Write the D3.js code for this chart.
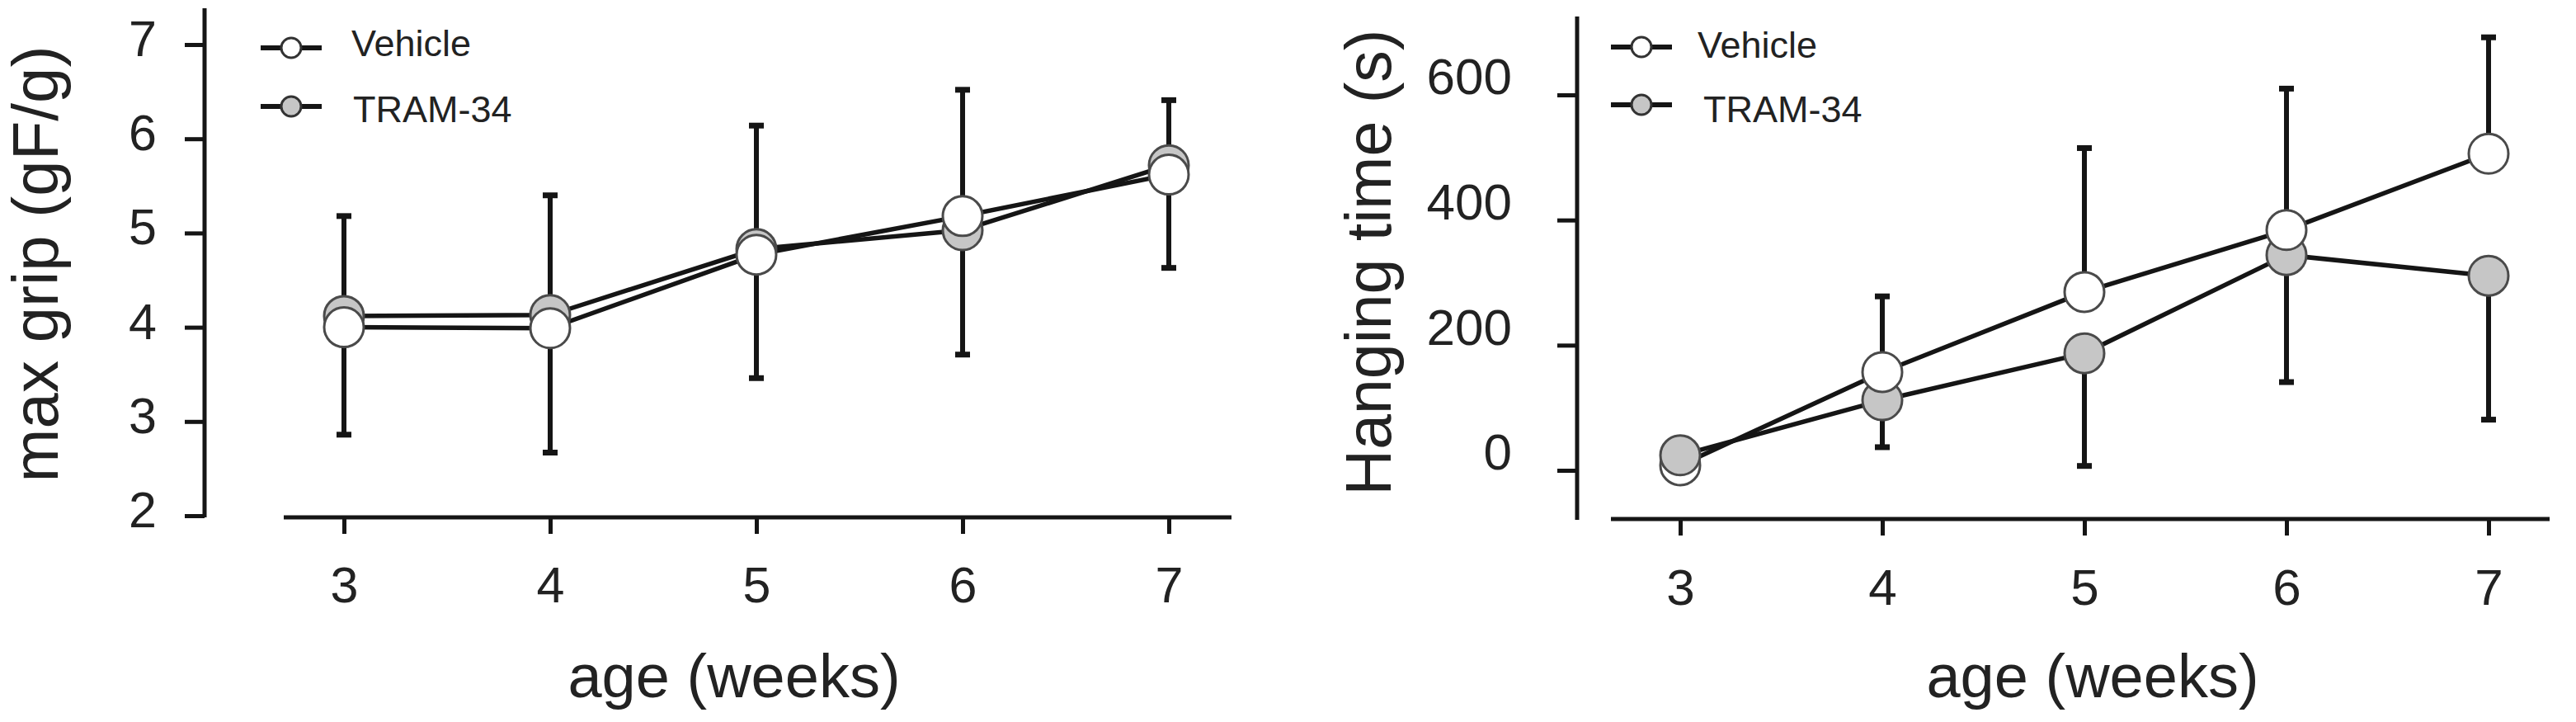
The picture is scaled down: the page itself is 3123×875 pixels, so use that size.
<!DOCTYPE html>
<html>
<head>
<meta charset="utf-8">
<script src="https://cdn.jsdelivr.net/npm/d3@7"></script>
<style>
  html, body { margin: 0; padding: 0; background: #ffffff; }
  svg { display: block; }
  text { font-family: "Liberation Sans", Arial, Helvetica, sans-serif; fill: #222; }
</style>
</head>
<body>
<svg id="chart" width="3123" height="875"></svg>
<script>
// ---------------- DATA ----------------
const weeks = [3, 4, 5, 6, 7];
const seriesNames = ["Vehicle", "TRAM-34"];

// Panel A: max grip (gF/g)
const gripVehicle      = [4.00, 3.99, 4.77, 5.18, 5.62];
const gripTram         = [4.12, 4.13, 4.83, 5.03, 5.72];
const gripVehicleUpper = [5.18, 5.40, 6.14, 6.52, 6.41];
const gripTramLower    = [2.86, 2.67, 3.46, 3.71, 4.63];
const gripTicks        = [2, 3, 4, 5, 6, 7];
const gripFront        = ["Vehicle", "Vehicle", "Vehicle", "Vehicle", "Vehicle"];

// Panel B: hanging time (s)
const hangVehicle      = [8, 157, 285, 384, 506];
const hangTram         = [24, 112, 187, 344, 311];
const hangVehicleUpper = [null, 278, 515, 610, 692];
const hangTramLower    = [null, 37, 7, 141, 81];
const hangTicks        = [0, 200, 400, 600];
const hangFront        = ["TRAM-34", "Vehicle", "Vehicle", "Vehicle", "Vehicle"];

// ---------------- STYLE ----------------
const INK = "#151515";
const fills = { "Vehicle": "#ffffff", "TRAM-34": "#c6c6c6" };
const svg = d3.select("#chart");
const fmt = d3.format("d");

function panel(cfg) {
  const g = svg.append("g");
  const x = d3.scaleLinear().domain([3, 7]).range(cfg.xRange);
  const y = d3.scaleLinear().domain(cfg.yDomain).range(cfg.yRange);

  // Y axis
  const ya = g.append("g").attr("transform", `translate(${cfg.yAxisX},0)`)
    .call(d3.axisLeft(y).tickValues(cfg.yTicks).tickFormat(fmt)
      .tickSize(cfg.yTickLen).tickSizeOuter(0).tickPadding(cfg.yTickPad));
  ya.select(".domain").remove();
  ya.append("line").attr("x1", 0).attr("x2", 0)
    .attr("y1", cfg.yAxisTop).attr("y2", cfg.yAxisBottom)
    .attr("stroke", INK).attr("stroke-width", 5);
  ya.selectAll(".tick line").attr("stroke", INK).attr("stroke-width", 5);
  ya.selectAll(".tick text").attr("font-size", cfg.tickFont).attr("fill", "#222")
    .attr("dy", cfg.yLabelDy).style("font-family", '"Liberation Sans", Arial, sans-serif');

  // X axis
  const xa = g.append("g").attr("transform", `translate(0,${cfg.xAxisY})`)
    .call(d3.axisBottom(x).tickValues(weeks).tickFormat(fmt)
      .tickSize(20).tickSizeOuter(0).tickPadding(40));
  xa.select(".domain").remove();
  xa.append("line").attr("x1", cfg.xAxisLeft).attr("x2", cfg.xAxisRight)
    .attr("y1", 0).attr("y2", 0).attr("stroke", INK).attr("stroke-width", 5);
  xa.selectAll(".tick line").attr("stroke", INK).attr("stroke-width", 5);
  xa.selectAll(".tick text").attr("font-size", cfg.tickFont).attr("fill", "#222")
    .attr("dy", "0.71em").style("font-family", '"Liberation Sans", Arial, sans-serif');

  // Titles
  g.append("text").attr("x", cfg.xTitleX).attr("y", 845)
    .attr("text-anchor", "middle").attr("font-size", 74).text("age (weeks)");
  g.append("text").attr("transform", `translate(${cfg.yTitleX},${cfg.yTitleY}) rotate(-90)`)
    .attr("text-anchor", "middle").attr("font-size", cfg.yTitleFont).text(cfg.yTitle);

  const series = {
    "Vehicle": cfg.vehicle,
    "TRAM-34": cfg.tram
  };

  // Lines
  const line = d3.line().x((d, i) => x(weeks[i])).y(d => y(d));
  seriesNames.forEach(name => {
    g.append("path").datum(series[name]).attr("d", line)
      .attr("fill", "none").attr("stroke", INK).attr("stroke-width", 5.5)
      .attr("stroke-linejoin", "round");
  });

  // Error bars (Vehicle upward, TRAM-34 downward)
  const bars = [];
  weeks.forEach((w, i) => {
    if (cfg.vehUpper[i] != null) bars.push({ w, from: cfg.vehicle[i], to: cfg.vehUpper[i] });
    if (cfg.tramLower[i] != null) bars.push({ w, from: cfg.tram[i], to: cfg.tramLower[i] });
  });
  const eb = g.append("g");
  eb.selectAll("line.bar").data(bars).join("line").attr("class", "bar")
    .attr("x1", d => x(d.w)).attr("x2", d => x(d.w))
    .attr("y1", d => y(d.from)).attr("y2", d => y(d.to))
    .attr("stroke", INK).attr("stroke-width", 6);
  eb.selectAll("line.cap").data(bars).join("line").attr("class", "cap")
    .attr("x1", d => x(d.w) - 9).attr("x2", d => x(d.w) + 9)
    .attr("y1", d => y(d.to)).attr("y2", d => y(d.to))
    .attr("stroke", INK).attr("stroke-width", 7);

  // Markers: back one first, front one last
  const pts = [];
  weeks.forEach((w, i) => {
    const front = cfg.front[i];
    const back = front === "Vehicle" ? "TRAM-34" : "Vehicle";
    pts.push({ w, v: series[back][i], s: back });
    pts.push({ w, v: series[front][i], s: front });
  });
  g.append("g").selectAll("circle").data(pts).join("circle")
    .attr("cx", d => x(d.w)).attr("cy", d => y(d.v)).attr("r", 24)
    .attr("fill", d => fills[d.s]).attr("stroke", "#4a4a4a").attr("stroke-width", 3);

  // Legend
  const lg = g.append("g");
  seriesNames.forEach((name, i) => {
    const row = cfg.legend[i];
    lg.append("line").attr("x1", row.x1).attr("x2", row.x2).attr("y1", row.y).attr("y2", row.y)
      .attr("stroke", INK).attr("stroke-width", 6);
    lg.append("circle").attr("cx", (row.x1 + row.x2) / 2).attr("cy", row.y).attr("r", 12)
      .attr("fill", fills[name]).attr("stroke", "#333").attr("stroke-width", 3);
    lg.append("text").attr("x", row.tx).attr("y", row.ty).attr("font-size", 45).text(name);
  });
}

panel({
  xRange: [417, 1417], yDomain: [2, 7], yRange: [625, 54], yTicks: gripTicks,
  yAxisX: 248, yAxisTop: 10, yAxisBottom: 627, yTickLen: 24, yTickPad: 34, yLabelDy: "0.22em",
  xAxisY: 627, xAxisLeft: 344, xAxisRight: 1493, tickFont: 61,
  xTitleX: 890, yTitleX: 70, yTitleY: 320, yTitleFont: 78, yTitle: "max grip (gF/g)",
  vehicle: gripVehicle, tram: gripTram, vehUpper: gripVehicleUpper, tramLower: gripTramLower,
  front: gripFront,
  legend: [
    { x1: 316, x2: 390, y: 58, tx: 426, ty: 68 },
    { x1: 316, x2: 390, y: 129, tx: 428, ty: 148 }
  ]
});

panel({
  xRange: [2037, 3017], yDomain: [0, 600], yRange: [570, 115], yTicks: hangTicks,
  yAxisX: 1912, yAxisTop: 20, yAxisBottom: 630, yTickLen: 24, yTickPad: 55, yLabelDy: "-0.02em",
  xAxisY: 629, xAxisLeft: 1953, xAxisRight: 3091, tickFont: 62,
  xTitleX: 2537, yTitleX: 1686, yTitleY: 318, yTitleFont: 77, yTitle: "Hanging time (s)",
  vehicle: hangVehicle, tram: hangTram, vehUpper: hangVehicleUpper, tramLower: hangTramLower,
  front: hangFront,
  legend: [
    { x1: 1953, x2: 2027, y: 57, tx: 2058, ty: 70 },
    { x1: 1953, x2: 2027, y: 127, tx: 2065, ty: 148 }
  ]
});
</script>
</body>
</html>
